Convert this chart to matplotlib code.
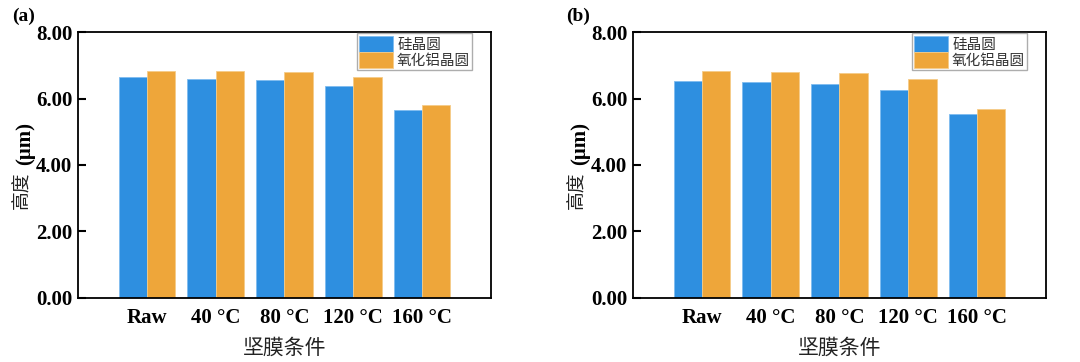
import matplotlib
matplotlib.use('Agg')
import matplotlib.pyplot as plt
import numpy as np

plt.rcParams['font.family'] = ['Liberation Serif', 'Noto Sans CJK SC', 'DejaVu Sans']

categories = ['Raw', '40 °C', '80 °C', '120 °C', '160 °C']
series_names = ['硅晶圆', '氧化铝晶圆']

# panel (a)
si_a = [6.64, 6.60, 6.57, 6.37, 5.66]
al_a = [6.83, 6.83, 6.81, 6.65, 5.79]
# panel (b)
si_b = [6.52, 6.49, 6.44, 6.26, 5.53]
al_b = [6.82, 6.80, 6.77, 6.60, 5.68]

yticks = [0, 2, 4, 6, 8]

blue = '#2E8FE0'
orange = '#EEA63A'

fig = plt.figure(figsize=(10.8, 3.62), dpi=100)
ax_a = fig.add_axes([0.0722, 0.1768, 0.3824, 0.7348])
ax_b = fig.add_axes([0.5861, 0.1768, 0.3824, 0.7348])


def draw_panel(ax, si, al, tag):
    x = np.arange(len(categories))
    w = 0.41
    ax.bar(x - w / 2, si, w, color=blue, edgecolor='#7fbcef', linewidth=0.6,
           label=series_names[0], zorder=2)
    ax.bar(x + w / 2, al, w, color=orange, edgecolor='#f5cc88', linewidth=0.6,
           label=series_names[1], zorder=2)
    ax.set_xlim(-1, len(categories))
    ax.set_ylim(0, 8)
    ax.set_yticks(yticks)
    ax.set_yticklabels(['%.2f' % v for v in yticks], fontsize=15, fontweight='bold')
    ax.set_xticks(x)
    ax.set_xticklabels(categories, fontsize=15, fontweight='bold')
    ax.tick_params(direction='in', length=6, width=1.5)
    ax.tick_params(axis='x', pad=7)
    ax.tick_params(axis='y', pad=4)
    for s in ax.spines.values():
        s.set_linewidth(1.3)
    # y label: Chinese part regular, unit part bold
    ax.text(-0.137, 0.406, '高度', transform=ax.transAxes, rotation=90,
            fontsize=13.5, ha='center', va='center', color='#222222')
    ax.text(-0.127, 0.58, '(μm)', transform=ax.transAxes, rotation=90,
            fontsize=15, fontweight='bold', ha='center', va='center')
    ax.set_xlabel('坚膜条件', fontsize=15, labelpad=8, color='#222222')
    leg = ax.legend(loc='upper right', bbox_to_anchor=(0.955, 0.995), fontsize=10.5,
                    frameon=True, fancybox=False, edgecolor='#999999',
                    handlelength=2.3, handleheight=1.35, handletextpad=0.3,
                    labelspacing=0.0, borderpad=0.15, borderaxespad=0.0)
    leg.get_frame().set_linewidth(1.0)
    for t in leg.get_texts():
        t.set_color('#333333')
    ax.text(-0.132, 1.06, tag, transform=ax.transAxes, fontsize=14,
            fontweight='bold', ha='center', va='center')


draw_panel(ax_a, si_a, al_a, '(a)')
draw_panel(ax_b, si_b, al_b, '(b)')

fig.savefig('out.png', dpi=100)
